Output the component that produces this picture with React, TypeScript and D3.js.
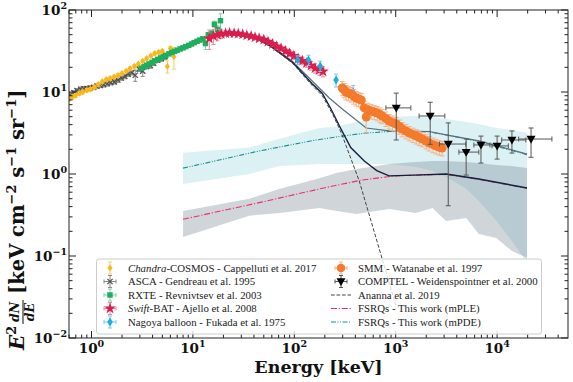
import React from "react";
import * as d3 from "d3";

// ---- data ----
const chandraE = [0.6, 0.65, 0.7, 0.76, 0.82, 0.9, 0.98, 1.07, 1.17, 1.28, 1.4, 1.53, 1.67, 1.83, 2.0, 2.2, 2.4, 2.65, 2.9, 3.2, 3.5, 3.85, 4.2, 4.6, 5.0, 5.6, 6.0, 6.5];
const chandraF = [8.3, 8.7, 9.1, 9.6, 10.0, 10.5, 10.8, 11.5, 12.4, 13.4, 14.2, 14.6, 15.3, 15.9, 16.8, 18.0, 19.3, 20.6, 22.0, 23.8, 25.6, 27.5, 29.5, 30.5, 31.5, 20.5, 34.0, 27.0];
const chandraErr = [0.5, 0.5, 0.5, 0.5, 0.5, 0.5, 0.5, 0.6, 0.6, 0.6, 0.7, 0.7, 0.7, 0.8, 0.8, 0.9, 0.9, 1.0, 1.0, 1.1, 1.2, 1.3, 1.4, 1.5, 1.6, 3.5, 1.8, 8.0];

const ascaE = [0.62, 0.67, 0.72, 0.78, 0.84, 0.9, 0.97, 1.05, 1.13, 1.22, 1.32, 1.43, 1.55, 1.68, 1.82, 1.97, 2.13, 2.3, 2.5, 2.7, 2.95, 3.2, 3.5, 3.8, 4.1, 4.5, 4.9, 5.3];
const ascaF = [9.2, 9.8, 10.4, 10.8, 10.9, 11.0, 11.2, 11.4, 11.8, 12.0, 12.3, 12.6, 13.0, 13.3, 14.0, 14.8, 15.5, 16.5, 17.2, 16.0, 19.0, 18.0, 20.5, 21.0, 22.5, 24.5, 25.5, 27.0];
const ascaErr = [0.6, 0.6, 0.6, 0.7, 0.7, 0.7, 0.7, 0.7, 0.7, 0.7, 0.8, 0.8, 0.8, 0.8, 0.9, 0.9, 1.0, 1.0, 1.1, 2.5, 1.2, 2.5, 1.3, 1.5, 1.5, 1.6, 1.8, 2.0];

const rxteE = [3.1, 3.3, 3.5, 3.7, 3.95, 4.2, 4.5, 4.8, 5.1, 5.4, 5.8, 6.2, 6.6, 7.0, 7.5, 8.0, 8.5, 9.1, 9.7, 10.3, 11.0, 11.7, 12.5, 13.3, 14.2, 15.2, 16.3, 17.5, 18.7];
const rxteF = [19.5, 20.3, 21.2, 22.0, 23.0, 24.0, 25.0, 26.0, 27.0, 28.0, 29.2, 30.3, 31.3, 32.3, 33.5, 34.6, 35.8, 37.0, 38.5, 40.0, 41.5, 43.0, 44.5, 39.0, 50.0, 52.0, 67.0, 58.0, 74.0];
const rxteErr = [0.4, 0.4, 0.4, 0.4, 0.4, 0.5, 0.5, 0.5, 0.5, 0.5, 0.6, 0.6, 0.6, 0.7, 0.7, 0.7, 0.8, 0.8, 0.9, 1.0, 1.0, 1.2, 1.4, 6.0, 3.0, 4.0, 6.0, 6.0, 16.0];

const swiftE = [14.5, 16, 17.5, 19, 21, 23, 25.5, 28, 31, 34, 37.5, 41, 45, 50, 55, 61, 67, 74, 82, 90, 99, 109, 120, 132, 146, 160, 176, 192];
const swiftF = [45, 48, 50, 51, 52, 52.5, 52, 51.5, 50.5, 49, 48, 46.5, 45, 43.5, 41, 38.5, 36, 34, 31.5, 29.5, 27.5, 25.5, 24, 22.5, 21, 19.5, 18.5, 17.8];
const swiftErr = [12, 10, 8, 6, 4, 3, 3, 2.5, 2.5, 2.5, 2.5, 2.5, 2.5, 2.5, 2.5, 2.5, 2.5, 2.5, 2.5, 2.5, 2.5, 2.5, 2.5, 2.5, 2.5, 2.5, 2.5, 2.5];

const nagoyaE = [108, 138, 180, 258, 380];
const nagoyaF = [24.6, 24.6, 20.8, 14.0, 10.0];
const nagoyaErr = [3, 3.5, 3, 2.5, 2];

const smmE = [297, 310, 323, 343, 363, 385, 408, 432, 457, 490, 512, 530, 574, 615, 658, 700, 737, 800, 860, 930, 1011, 1090, 1160, 1260, 1363, 1480, 1595, 1710, 1830, 1990, 2140, 2330, 2510, 2700, 2870];
const smmF = [11.2, 10.6, 10.0, 9.7, 9.45, 8.9, 8.45, 8.2, 8.0, 6.4, 4.96, 6.1, 5.87, 5.7, 5.54, 5.3, 5.1, 4.75, 4.43, 4.25, 4.07, 3.8, 3.54, 3.35, 3.16, 3.02, 2.9, 2.78, 2.67, 2.52, 2.39, 2.28, 2.19, 2.12, 2.07];
const smmErr = [2.2, 2.1, 2.0, 1.9, 1.9, 1.8, 1.7, 1.6, 1.6, 1.3, 1.8, 1.2, 1.2, 1.1, 1.1, 1.1, 1.0, 0.95, 0.9, 0.85, 0.8, 0.75, 0.7, 0.67, 0.63, 0.6, 0.58, 0.56, 0.53, 0.5, 0.48, 0.46, 0.44, 0.42, 0.41];

const comptelE = [1012, 2187, 3296, 4950, 6930, 10000, 14000, 21600];
const comptelF = [6.4, 5.1, 2.32, 1.85, 2.26, 2.2, 2.6, 2.67];
const comptelLo = [2.6, 2.3, 0.41, 0.97, 1.36, 1.52, 1.8, 1.6];
const comptelHi = [9.7, 7.5, 4.2, 2.67, 2.9, 2.9, 3.35, 3.64];
const comptelEmin = [800, 1700, 2700, 4200, 5900, 8900, 11100, 16300];
const comptelEmax = [1410, 3050, 4900, 6600, 8500, 12900, 19200, 34700];

const bandE = [8, 36, 71, 177, 260, 410, 860, 1580, 2300, 3140, 4950, 6600, 9800, 14000, 19700];
const mpleLo = [0.17, 0.31, 0.335, 0.385, 0.354, 0.325, 0.374, 0.335, 0.385, 0.267, 0.29, 0.185, 0.166, 0.115, 0.095];
const mpleHi = [0.354, 0.5, 0.656, 0.89, 1.03, 1.15, 1.32, 1.4, 1.44, 1.44, 1.4, 1.36, 1.29, 1.25, 1.18];
const mpdeLo = [0.755, 1.0, 1.25, 1.32, 1.32, 1.32, 1.32, 1.22, 1.09, 0.92, 0.66, 0.47, 0.27, 0.153, 0.082];
const mpdeHi = [1.82, 2.1, 2.7, 3.64, 3.8, 4.3, 4.96, 5.1, 4.96, 4.68, 4.3, 4.07, 3.64, 3.44, 3.16];

const anannaE = [20, 30, 40, 60, 96, 150, 189, 240, 291, 360, 437, 560, 736, 1000];
const anannaF = [52, 51, 46, 35, 22.5, 12, 9.0, 5.3, 3.16, 1.56, 0.82, 0.29, 0.092, 0.025];
const totPleE = [20, 30, 40, 60, 96, 150, 189, 230, 277, 360, 490, 650, 860, 1500, 3140, 6600, 19700];
const totPleF = [52.5, 51.5, 46.5, 35.5, 23, 12.6, 9.6, 6.2, 3.9, 2.1, 1.44, 1.1, 0.95, 0.97, 1.0, 0.87, 0.675];
const totPdeE = [20, 30, 40, 60, 96, 150, 221, 297, 512, 860, 2150, 3140, 6600, 19700];
const totPdeF = [53, 52, 47.5, 36.5, 23.5, 13.6, 8.45, 6.2, 3.64, 3.35, 3.3, 3.0, 2.53, 1.75];
const mpleLineE = [8, 20, 50, 100, 200, 466, 1000, 3140, 6600, 19700];
const mpleLineF = [0.28, 0.36, 0.46, 0.56, 0.68, 0.845, 0.95, 0.99, 0.86, 0.67];
const mpdeLineE = [8, 20, 40, 71, 150, 297, 500, 860, 2150, 3140, 6600, 19700];
const mpdeLineF = [1.18, 1.52, 1.85, 2.13, 2.55, 2.9, 3.15, 3.3, 3.25, 3.0, 2.5, 1.72];

// ---- layout ----
const W = 573;
const H = 382;
const margin = { top: 10, right: 5, bottom: 44, left: 69 };
const x = d3.scaleLog().domain([0.6, 5e4]).range([margin.left, W - margin.right]);
const y = d3.scaleLog().domain([0.01, 100]).range([H - margin.bottom, margin.top]);
const X0 = margin.left, X1 = W - margin.right, Y0 = margin.top, Y1 = H - margin.bottom;

const C = {
  chandra: "#f8b81c", chandraErr: "#f9cf6a",
  asca: "#505050", ascaErr: "#8a8a8a",
  rxte: "#1fae5e", rxteErr: "#7fd3a2",
  swift: "#d81e4d", swiftErr: "#ec8aa2",
  nagoya: "#1daee0", nagoyaErr: "#6fcdee",
  smm: "#f47a2c", smmErr: "#f8b38a",
  comptel: "#000000", comptelErr: "#555555",
  ananna: "#444444", mple: "#ee2b74", mpde: "#14928f",
  navy: "#13203e", slate: "#5d6d7e",
};

type Mk = (cx: number, cy: number, key?: string) => React.ReactNode;

const starPath = d3.symbol(d3.symbolStar, 42)()!;
const squarePath = d3.symbol(d3.symbolSquare, 30)()!;

const mkStar = (c: string): Mk => (cx, cy, k) => <path key={k} d={starPath} transform={`translate(${cx},${cy})`} fill={c} />;
const mkSquare = (c: string): Mk => (cx, cy, k) => <path key={k} d={squarePath} transform={`translate(${cx},${cy})`} fill={c} />;
const mkCircle = (c: string, r: number): Mk => (cx, cy, k) => <circle key={k} cx={cx} cy={cy} r={r} fill={c} />;
const mkDiamond = (c: string, w: number, h: number): Mk => (cx, cy, k) => (
  <path key={k} d={`M${cx},${cy - h}L${cx + w},${cy}L${cx},${cy + h}L${cx - w},${cy}Z`} fill={c} />
);
const mkX = (c: string): Mk => (cx, cy, k) => (
  <path key={k} d={`M${cx - 2.6},${cy - 2.6}L${cx + 2.6},${cy + 2.6}M${cx - 2.6},${cy + 2.6}L${cx + 2.6},${cy - 2.6}`} stroke={c} strokeWidth={1.3} />
);
const mkTri = (c: string): Mk => (cx, cy, k) => (
  <path key={k} d={`M${cx - 4.5},${cy - 3.2}L${cx + 4.5},${cy - 3.2}L${cx},${cy + 4.6}Z`} fill={c} />
);

function Series({ E, F, err, color, mk, cap = 2 }: { E: number[]; F: number[]; err: number[]; color: string; mk: Mk; cap?: number }) {
  return (
    <g>
      {E.map((e, i) => {
        const px = x(e);
        const a = y(Math.max(F[i] - err[i], 0.011));
        const b = y(F[i] + err[i]);
        return (
          <path key={"e" + i} d={`M${px},${a}V${b}M${px - cap},${a}H${px + cap}M${px - cap},${b}H${px + cap}`} stroke={color} strokeWidth={1} fill="none" />
        );
      })}
      {E.map((e, i) => mk(x(e), y(F[i]), "m" + i))}
    </g>
  );
}

const line = (E: number[], F: number[]) =>
  d3.line<number>().x((_, i) => x(E[i])).y((_, i) => y(F[i]))(E)!;

const band = (lo: number[], hi: number[]) =>
  d3.area<number>().x((e) => x(e)).y0((_, i) => y(lo[i])).y1((_, i) => y(hi[i]))(bandE)!;

const minorTicks = (lo: number, hi: number) => {
  const out: number[] = [];
  for (let p = -3; p <= 5; p++) for (let m = 2; m <= 9; m++) {
    const v = m * Math.pow(10, p);
    if (v > lo && v < hi) out.push(v);
  }
  return out;
};
const xMajor = [1, 10, 100, 1000, 10000];
const yMajor = [0.01, 0.1, 1, 10, 100];
const xMinor = minorTicks(0.6, 5e4);
const yMinor = minorTicks(0.01, 100);

const serifBold = "'DejaVu Serif', serif";
const legendFont = "'Liberation Serif', 'Times New Roman', serif";

function Handle({ cx, cy, mk, color, xbar = true }: { cx: number; cy: number; mk: Mk; color: string; xbar?: boolean }) {
  return (
    <g>
      <path d={`M${cx},${cy - 6}V${cy + 6}M${cx - 2},${cy - 6}H${cx + 2}M${cx - 2},${cy + 6}H${cx + 2}`} stroke={color} strokeWidth={1} />
      {xbar && <path d={`M${cx - 6},${cy}H${cx + 6}M${cx - 6},${cy - 2}V${cy + 2}M${cx + 6},${cy - 2}V${cy + 2}`} stroke={color} strokeWidth={1} />}
      {mk(cx, cy)}
    </g>
  );
}

export default function App() {
  const rows = [268, 281.5, 295, 308.5, 322];
  const lx = 110, ltx = 128, rx = 341, rtx = 358;
  const fs = 10.8;
  return (
    <svg width={W} height={H} style={{ position: "absolute", left: 0, top: 0, background: "#fff" }}>
      <defs>
        <clipPath id="plot"><rect x={X0} y={Y0} width={X1 - X0} height={Y1 - Y0} /></clipPath>
      </defs>
      <rect x={0} y={0} width={W} height={H} fill="#fff" />
      <g clipPath="url(#plot)">
        <path d={band(mpdeLo, mpdeHi)} fill="#a6dbe3" fillOpacity={0.4} />
        <path d={band(mpleLo, mpleHi)} fill="#708090" fillOpacity={0.33} />
        <path d={line(mpdeLineE, mpdeLineF)} fill="none" stroke={C.mpde} strokeWidth={1.1} strokeDasharray="5,1.5,1,1.5,1,1.5" />
        <path d={line(mpleLineE, mpleLineF)} fill="none" stroke={C.mple} strokeWidth={1.1} strokeDasharray="6,1.8,1.2,1.8" />
        <path d={line(totPdeE, totPdeF)} fill="none" stroke={C.slate} strokeWidth={1.2} />
        <path d={line(totPleE, totPleF)} fill="none" stroke={C.navy} strokeWidth={1.4} />
        <path d={line(anannaE, anannaF)} fill="none" stroke={C.ananna} strokeWidth={1} strokeDasharray="3.7,1.8" />

        <Series E={ascaE} F={ascaF} err={ascaErr} color={C.ascaErr} mk={mkX(C.asca)} />
        <Series E={chandraE} F={chandraF} err={chandraErr} color={C.chandraErr} mk={mkDiamond(C.chandra, 2.6, 3.4)} />
        <Series E={rxteE} F={rxteF} err={rxteErr} color={C.rxteErr} mk={mkSquare(C.rxte)} />
        <Series E={swiftE} F={swiftF} err={swiftErr} color={C.swiftErr} mk={mkStar(C.swift)} />
        <Series E={nagoyaE} F={nagoyaF} err={nagoyaErr} color={C.nagoyaErr} mk={mkDiamond(C.nagoya, 2.8, 4.4)} />
        <Series E={smmE} F={smmF} err={smmErr} color={C.smmErr} mk={mkCircle(C.smm, 4.5)} cap={2.5} />
        <g>
          {comptelE.map((e, i) => {
            const px = x(e), py = y(comptelF[i]);
            const a = y(comptelLo[i]), b = y(comptelHi[i]);
            const l = x(comptelEmin[i]), r = x(comptelEmax[i]);
            return (
              <path key={"c" + i} d={`M${px},${a}V${b}M${px - 2.5},${a}H${px + 2.5}M${px - 2.5},${b}H${px + 2.5}M${l},${py}H${r}M${l},${py - 2.5}V${py + 2.5}M${r},${py - 2.5}V${py + 2.5}`} stroke={C.comptelErr} strokeWidth={1} fill="none" />
            );
          })}
          {comptelE.map((e, i) => mkTri(C.comptel)(x(e), y(comptelF[i]), "t" + i))}
        </g>
      </g>

      {/* frame and ticks */}
      <rect x={X0} y={Y0} width={X1 - X0} height={Y1 - Y0} fill="none" stroke="#222" strokeWidth={1} />
      <g stroke="#222" strokeWidth={1}>
        {xMajor.map((v) => <path key={"xM" + v} d={`M${x(v)},${Y1}v-7M${x(v)},${Y0}v7`} />)}
        {xMinor.map((v) => <path key={"xm" + v} d={`M${x(v)},${Y1}v-3.5M${x(v)},${Y0}v3.5`} />)}
        {yMajor.map((v) => <path key={"yM" + v} d={`M${X0},${y(v)}h7M${X1},${y(v)}h-7`} />)}
        {yMinor.map((v) => <path key={"ym" + v} d={`M${X0},${y(v)}h3.5M${X1},${y(v)}h-3.5`} />)}
      </g>
      <g fontFamily={serifBold} fontWeight="bold" fill="#111">
        {xMajor.map((v, i) => (
          <text key={"xl" + v} x={x(v)} y={353} textAnchor="middle" fontSize={13.5}>
            10<tspan fontSize={9.5} dy={-6}>{i}</tspan>
          </text>
        ))}
        {yMajor.map((v, i) => (
          <text key={"yl" + v} x={67} y={y(v) + 5} textAnchor="end" fontSize={13.5}>
            10<tspan fontSize={9.5} dy={-6}>{i - 2 < 0 ? "\u2212" + (2 - i) : String(i - 2)}</tspan>
          </text>
        ))}
        <text x={(X0 + X1) / 2} y={373} textAnchor="middle" fontSize={17.5}>Energy [keV]</text>
        <g transform="translate(24,198) rotate(-90)">
          <text x={-152} y={0} fontSize={20} fontStyle="italic">E<tspan fontSize={13} dy={-8} fontStyle="normal">2</tspan></text>
          <text x={-114} y={-5} fontSize={12.5} fontStyle="italic" textAnchor="middle">dN</text>
          <line x1={-126} x2={-102} y1={-1} y2={-1} stroke="#111" strokeWidth={1} />
          <text x={-114} y={10} fontSize={12.5} fontStyle="italic" textAnchor="middle">dE</text>
          <text x={-96} y={0} fontSize={19.5}>
            [keV cm<tspan fontSize={13} dy={-8}>{"\u22122"}</tspan>
            <tspan dy={8}> s</tspan><tspan fontSize={13} dy={-8}>{"\u22121"}</tspan>
            <tspan dy={8}> sr</tspan><tspan fontSize={13} dy={-8}>{"\u22121"}</tspan>
            <tspan dy={8}>]</tspan>
          </text>
        </g>
      </g>

      {/* legend */}
      <rect x={96.5} y={259} width={445} height={75} rx={2.5} fill="#fff" fillOpacity={0.8} stroke="#cccccc" strokeWidth={1} />
      <g fontFamily={legendFont} fontSize={fs} fill="#222">
        <Handle cx={lx} cy={rows[0]} mk={mkDiamond(C.chandra, 2.6, 3.4)} color={C.chandraErr} xbar={false} />
        <text x={ltx} y={rows[0] + 3.6}><tspan fontStyle="italic">Chandra</tspan>-COSMOS - Cappelluti et al. 2017</text>
        <Handle cx={lx} cy={rows[1]} mk={mkX(C.asca)} color={C.ascaErr} />
        <text x={ltx} y={rows[1] + 3.6}>ASCA - Gendreau et al. 1995</text>
        <Handle cx={lx} cy={rows[2]} mk={mkSquare(C.rxte)} color={C.rxteErr} />
        <text x={ltx} y={rows[2] + 3.6}>RXTE - Revnivtsev et al. 2003</text>
        <Handle cx={lx} cy={rows[3]} mk={mkStar(C.swift)} color={C.swiftErr} />
        <text x={ltx} y={rows[3] + 3.6}><tspan fontStyle="italic">Swift</tspan>-BAT - Ajello et al. 2008</text>
        <Handle cx={lx} cy={rows[4]} mk={mkDiamond(C.nagoya, 2.8, 4.4)} color={C.nagoyaErr} />
        <text x={ltx} y={rows[4] + 3.6}>Nagoya balloon - Fukada et al. 1975</text>

        <Handle cx={rx} cy={rows[0]} mk={mkCircle(C.smm, 4.3)} color={C.smmErr} />
        <text x={rtx} y={rows[0] + 3.6}>SMM - Watanabe et al. 1997</text>
        <Handle cx={rx} cy={rows[1]} mk={mkTri(C.comptel)} color={C.comptelErr} />
        <text x={rtx} y={rows[1] + 3.6}>COMPTEL - Weidenspointner et al. 2000</text>
        <line x1={331} x2={351} y1={rows[2]} y2={rows[2]} stroke={C.ananna} strokeWidth={1} strokeDasharray="3.7,1.8" />
        <text x={rtx} y={rows[2] + 3.6}>Ananna et al. 2019</text>
        <line x1={331} x2={351} y1={rows[3]} y2={rows[3]} stroke={C.mple} strokeWidth={1.1} strokeDasharray="6,1.8,1.2,1.8" />
        <text x={rtx} y={rows[3] + 3.6}>FSRQs - This work (mPLE)</text>
        <line x1={331} x2={351} y1={rows[4]} y2={rows[4]} stroke={C.mpde} strokeWidth={1.1} strokeDasharray="5,1.5,1,1.5,1,1.5" />
        <text x={rtx} y={rows[4] + 3.6}>FSRQs - This work (mPDE)</text>
      </g>
    </svg>
  );
}
